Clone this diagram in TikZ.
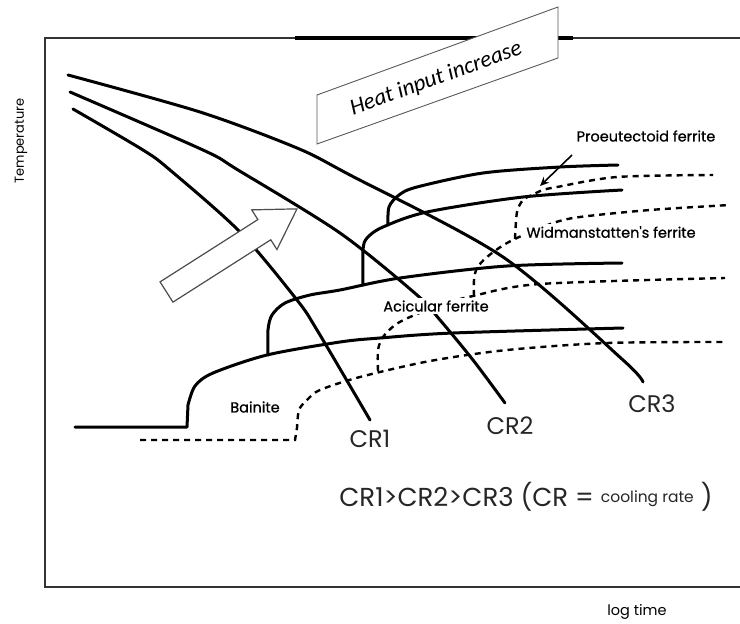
\documentclass[tikz,border=0pt]{standalone}
\usepackage{fontspec}
\setmainfont{Poppins}
\newfontfamily\phasefont[FakeBold=0.8]{Poppins}
\newfontfamily\notefont{Carlito}
\usetikzlibrary{arrows.meta}

\begin{document}
\begin{tikzpicture}[x=1pt,y=-1pt,
  curve/.style={line width=3pt,line cap=round,line join=round},
  finish/.style={line width=2.4pt,dash pattern=on 6pt off 5pt},
  phase/.style={fill=white,inner sep=2pt,font=\phasefont\fontsize{14.5}{16}\selectfont},
  crlbl/.style={inner sep=0,font=\fontsize{24}{28}\selectfont,text=black!85},
  axis/.style={line width=2pt,draw=black!80},
  notebox/.style={draw=black!65,fill=white,line width=0.9pt}
  ]
  \useasboundingbox (0,0) rectangle (740,624);
  % 
  % Frame
  % 
  \draw[axis] (740,38) -- (45,38) -- (45,587) -- (740,587);
  \draw[line width=4pt] (295,38) -- (573,38);
  \node(temp)[rotate=90,font=\fontsize{13}{15}\selectfont] at (21,141) {Temperature};
  \node(logt)[font=\fontsize{14.5}{16}\selectfont] at (637,612) {log time};
  % 
  % Cooling curves
  % 
  \draw[curve] plot[smooth] coordinates {(73,109) (143,150) (170,170) (240,232) (297,300) (317,330) (370,420)};
  \draw[curve] plot[smooth] coordinates {(70,92) (203,150) (238,170) (340,233) (417,295) (440,320) (473,360) (505,403)};
  \draw[curve] plot[smooth] coordinates {(68,75) (200,112) (297,148) (350,175) (503,257) (623,360) (643,382)};
  % 
  % Start curves
  % 
  % bainite
  \draw[curve] (75,427) -- (187,427) -- plot[smooth] coordinates {(188,405) (195,386) (213,373) (267,355) (340,342) (380,338) (453,333) (623,328)};
  % acicular ferrite
  \draw[curve] plot[smooth] coordinates {(268,355) (268,330) (272,315) (285,303) (310,295) (340,290) (400,278) (507,266) (622,263)};
  % widmanstatten
  \draw[curve] plot[smooth] coordinates {(363,285) (363,250) (367,238) (383,227) (427,212) (523,197) (622,190)};
  % proeutectoid
  \draw[curve] plot[smooth] coordinates {(388,225) (389,207) (399,195) (417,187) (483,173) (560,167) (618,165)};
  % 
  % Finish curves
  % 
  \draw[finish] (140,440) -- (295,440) -- plot[smooth] coordinates {(297,428) (299,410) (307,400) (320,390) (360,377) (430,361) (507,350) (607,343) (725,342)};
  \draw[finish] plot[smooth] coordinates {(378,371) (378,350) (383,337) (395,325) (410,317) (440,305) (473,296) (540,284) (725,278)};
  \draw[finish] plot[smooth] coordinates {(474,296) (474,280) (477,268) (487,257) (507,243) (540,228) (573,218) (650,210) (730,205)};
  \draw[finish] plot[smooth] coordinates {(515,239) (517,212) (523,200) (532,195) (543,190) (557,187) (617,177) (713,175)};
  % 
  % Labels
  % 
  \node(proeu)[phase] at (646,136) {Proeutectoid ferrite};
  \node(widman)[phase] at (611,232) {Widmanstatten's ferrite};
  \node(acic)[phase] at (436,306) {Acicular ferrite};
  \node(bain)[phase] at (255,407) {Bainite};
  \node(cr1)[crlbl] at (370,439) {CR1};
  \node(cr2)[crlbl] at (510,426) {CR2};
  \node(cr3)[crlbl] at (652,404) {CR3};
  \node(rates)[crlbl,font=\fontsize{26}{30}\selectfont] at (526,497) {CR1>CR2>CR3 (CR = \raisebox{4pt}{\fontsize{15.5}{17}\selectfont cooling rate} )};
  % 
  % Arrows
  % 
  \coordinate (pfstart) at (572,155);
  \coordinate (pfend) at (540,186);
  \draw[-{Stealth[length=9pt,width=8pt]},line width=1.6pt] (pfstart) -- (pfend);
  \begin{scope}[shift={(166.5,292)},rotate=32.5]
    \draw[draw=black!70,fill=white,line width=1.2pt] (0,-12) -- (116,-12) -- (116,-23.5) -- (154.7,0) -- (116,23.5) -- (116,12) -- (0,12) -- cycle;
  \end{scope}
  % 
  % Heat input box
  % 
  \draw[notebox] (317,95) -- (558,7) -- (558,58) -- (317,144) -- cycle;
  \node(heat)[rotate=20,font=\notefont\itshape\fontsize{23}{26}\selectfont] at (436,79) {Heat input increase};
\end{tikzpicture}
\end{document}
